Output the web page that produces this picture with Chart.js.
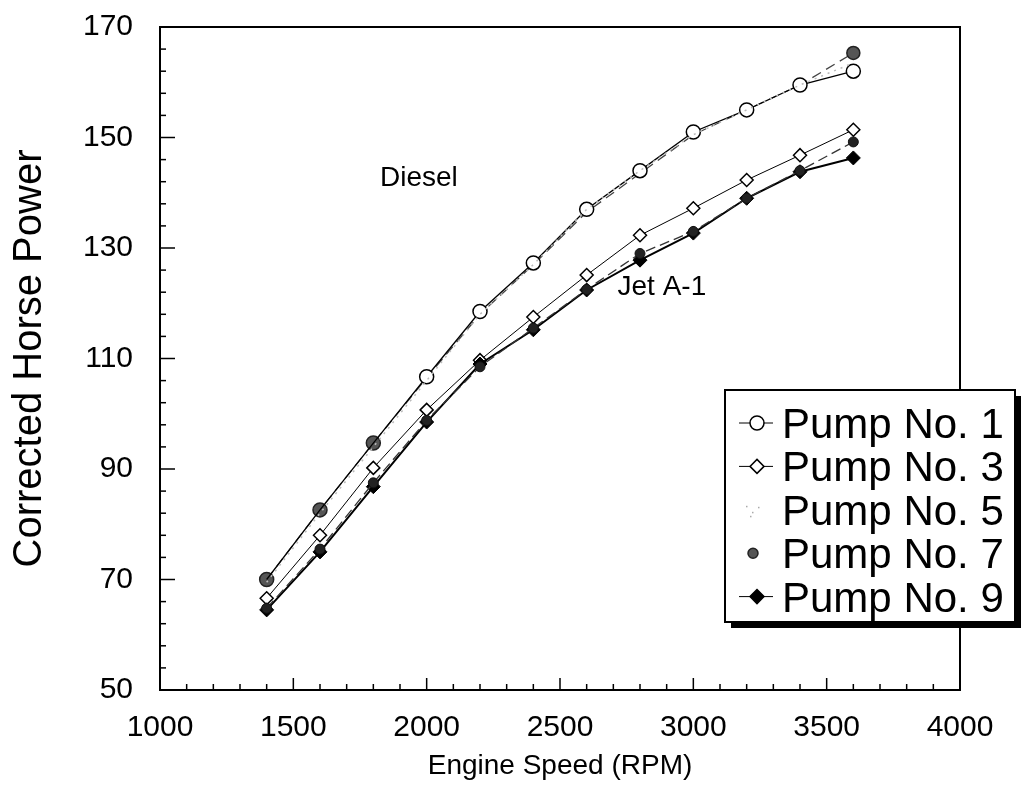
<!DOCTYPE html>
<html>
<head>
<meta charset="utf-8">
<script src="https://cdn.jsdelivr.net/npm/chart.js@4/dist/chart.umd.min.js"></script>
<style>
  body { margin: 0; background: #fff; }
</style>
</head>
<body>
<canvas id="myChart" width="1027" height="806"></canvas>
<script>
// engine speed (RPM) for every test point
var rpm = [1400, 1600, 1800, 2000, 2200, 2400, 2600, 2800, 3000, 3200, 3400, 3600];

// Diesel runs
var pump1Diesel = [70, 82.6, 94.7, 106.7, 118.5, 127.3, 137, 144, 151, 155, 159.5, 162];
var pump5Diesel = [69.5, 82, 94, 106, 118, 127, 137, 144, 150.5, 155, 159.5, 163.5];
var pump7Diesel = [70, 82.6, 94.7, 106.5, 118, 127, 136.5, 143.5, 150.5, 155, 159.5, 165.3];

// Jet A-1 runs
var pump3Jet = [66.6, 78, 90.2, 100.7, 109.7, 117.5, 125.1, 132.3, 137.2, 142.3, 146.8, 151.4];
var pump7Jet = [64.8, 75.5, 87.5, 98.8, 108.5, 115.5, 122.5, 129, 133, 139, 144, 149.2];
var pump9Jet = [64.5, 75, 86.8, 98.5, 109, 115.2, 122.4, 127.8, 132.7, 139, 143.8, 146.3];

var legendNames = ["Pump No. 1", "Pump No. 3", "Pump No. 5", "Pump No. 7", "Pump No. 9"];
var fuelLabels = [
    { text: "Diesel", x: 1971, y: 142.7 },
    { text: "Jet A-1", x: 2882, y: 122.9 }
];

function pts(values) {
    return rpm.map(function(r, i) { return { x: r, y: values[i] }; });
}

var datasets = [
    { label: "Pump No. 5", data: pts(pump5Diesel), borderColor: "#bbb", borderWidth: 1.5,
      borderDash: [2, 5], pointRadius: 0, legendMark: "dots" },
    { label: "Pump No. 1", data: pts(pump1Diesel), borderColor: "#000", borderWidth: 1.3,
      pointStyle: "circle", pointRadius: [0, 0, 0, 7, 7, 7, 7, 7, 7, 7, 7, 7], pointBackgroundColor: "#fff", pointBorderColor: "#000", pointBorderWidth: 1.5,
      legendMark: "line" },
    { label: "Pump No. 7", data: pts(pump7Diesel), borderColor: "#444", borderWidth: 1.3,
      borderDash: [10, 6], pointStyle: "circle", pointRadius: [7, 7, 7, 0, 0, 0, 0, 0, 0, 0, 0, 6.5],
      pointBackgroundColor: "#555", pointBorderColor: "#222", pointBorderWidth: 1.5,
      legendMark: "marker" },
    { label: "Pump No. 7 Jet", data: pts(pump7Jet), borderColor: "#333", borderWidth: 1.3,
      borderDash: [10, 5], pointStyle: "circle", pointRadius: 5, pointBackgroundColor: "#222", pointBorderColor: "#111", pointBorderWidth: 1 },
    { label: "Pump No. 9", data: pts(pump9Jet), borderColor: "#000", borderWidth: 2,
      pointStyle: "rectRot", pointRadius: 7, pointBackgroundColor: "#000", pointBorderColor: "#000", pointBorderWidth: 1,
      legendMark: "line" },
    { label: "Pump No. 3", data: pts(pump3Jet), borderColor: "#000", borderWidth: 1,
      pointStyle: "rectRot", pointRadius: 6.5, pointBackgroundColor: "#fff", pointBorderColor: "#000", pointBorderWidth: 1.5,
      legendMark: "line" }
];

// inward ticks, frame, fuel labels and the boxed legend
var decorPlugin = {
    id: "decor",
    afterDraw: function(chart) {
        var c = chart.ctx;
        var a = chart.chartArea;
        var xs = chart.scales.x, ys = chart.scales.y;
        c.save();
        c.strokeStyle = "#000";
        c.lineWidth = 1.5;
        var v, p, len;
        for (v = 54; v < 170; v += 4) {
            p = ys.getPixelForValue(v);
            len = ((v - 50) % 20 === 0) ? 15 : 6;
            c.beginPath(); c.moveTo(a.left, p); c.lineTo(a.left + len, p); c.stroke();
        }
        for (v = 1100; v < 4000; v += 100) {
            p = xs.getPixelForValue(v);
            len = (v % 500 === 0) ? 12 : 6;
            c.beginPath(); c.moveTo(p, a.bottom); c.lineTo(p, a.bottom - len); c.stroke();
        }
        c.lineWidth = 2;
        c.strokeRect(a.left, a.top, a.right - a.left, a.bottom - a.top);

        c.fillStyle = "#000";
        c.textAlign = "center";
        c.textBaseline = "middle";
        c.font = "28px 'Liberation Sans', Arial, sans-serif";
        fuelLabels.forEach(function(f) {
            c.fillText(f.text, xs.getPixelForValue(f.x), ys.getPixelForValue(f.y));
        });

        // legend box with drop shadow
        var bx = 725, by = 390, bw = 290, bh = 232;
        c.fillStyle = "#000";
        c.fillRect(bx + 6, by + 6, bw, bh);
        c.fillStyle = "#fff";
        c.fillRect(bx, by, bw, bh);
        c.lineWidth = 2;
        c.strokeRect(bx, by, bw, bh);

        c.textAlign = "left";
        c.textBaseline = "alphabetic";
        c.font = "42px 'Liberation Sans', Arial, sans-serif";
        legendNames.forEach(function(name, i) {
            var base = 438 + i * 43.4;
            var cy = base - 15;
            var ds = chart.data.datasets.find(function(d) { return d.label === name; });
            var mx = 757;
            if (ds.legendMark === "line") {
                c.strokeStyle = "#000";
                c.lineWidth = 1;
                c.beginPath(); c.moveTo(739, cy); c.lineTo(773, cy); c.stroke();
            }
            if (ds.legendMark === "dots") {
                c.fillStyle = "#aaa";
                [[746, cy - 4], [752, cy + 2], [758, cy - 3], [750, cy + 6]].forEach(function(d) {
                    c.fillRect(d[0], d[1], 1.5, 1.5);
                });
            } else {
                c.fillStyle = ds.pointBackgroundColor;
                c.strokeStyle = ds.pointBorderColor;
                c.lineWidth = 1.5;
                c.beginPath();
                if (ds.pointStyle === "rectRot") {
                    var r = 7;
                    c.moveTo(mx, cy - r); c.lineTo(mx + r, cy); c.lineTo(mx, cy + r); c.lineTo(mx - r, cy); c.closePath();
                } else if (ds.legendMark === "marker") {
                    c.arc(753, cy, 5, 0, Math.PI * 2);
                } else {
                    c.arc(mx, cy, 7, 0, Math.PI * 2);
                }
                c.fill(); c.stroke();
            }
            c.fillStyle = "#000";
            c.fillText(name, 782, base);
        });
        c.restore();
    }
};

var ctx = document.getElementById("myChart").getContext("2d");
var chart = new Chart(ctx, {
    type: "line",
    data: { datasets: datasets },
    options: {
        responsive: false,
        animation: false,
        layout: { autoPadding: false, padding: { top: 27, right: 67, left: 0, bottom: 0 } },
        plugins: {
            legend: { display: false },
            tooltip: { enabled: false }
        },
        scales: {
            x: {
                type: "linear",
                min: 1000,
                max: 4000,
                grid: { display: false, drawTicks: false },
                border: { display: false },
                ticks: {
                    stepSize: 500,
                    color: "#000",
                    padding: 20,
                    maxRotation: 0,
                    font: { family: "'Liberation Sans', Arial", size: 30 },
                    callback: function(value) { return String(value); }
                },
                title: {
                    display: true,
                    text: "Engine Speed (RPM)",
                    color: "#000",
                    font: { family: "'Liberation Sans', Arial", size: 28 },
                    padding: { top: 0, bottom: 23 }
                },
                afterFit: function(scale) { scale.height = 116; }
            },
            y: {
                min: 50,
                max: 170,
                grid: { display: false, drawTicks: false },
                border: { display: false },
                ticks: {
                    stepSize: 20,
                    color: "#000",
                    padding: 27,
                    font: { family: "'Liberation Sans', Arial", size: 30 }
                },
                title: {
                    display: true,
                    text: "Corrected Horse Power",
                    color: "#000",
                    font: { family: "'Liberation Sans', Arial", size: 40 },
                    padding: { top: 6, bottom: 0 }
                },
                afterFit: function(scale) {
                    scale.width = 160;
                    scale.paddingTop = 0;
                    scale.paddingBottom = 0;
                }
            }
        }
    },
    plugins: [decorPlugin]
});
</script>
</body>
</html>
